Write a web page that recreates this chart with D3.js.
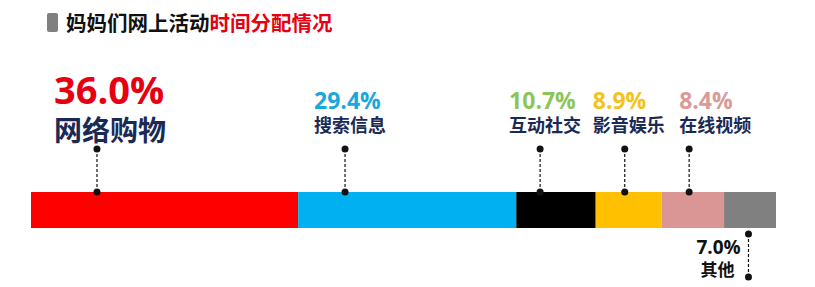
<!DOCTYPE html>
<html>
<head>
<meta charset="utf-8">
<script src="https://cdn.jsdelivr.net/npm/d3@7"></script>
<style>
  body { margin: 0; background: #fff; }
  svg { display: block; }
</style>
</head>
<body>
<div id="chart-container"></div>
<script>
// data
var categories = ["网络购物", "搜索信息", "互动社交", "影音娱乐", "在线视频", "其他"];
var shares = [36.0, 29.4, 10.7, 8.9, 8.4, 7.0];
var barColors = ["#ff0000", "#00b0f0", "#000000", "#ffc000", "#d99694", "#808080"];
var pctColors = ["#e60012", "#1aa7dc", "#8cc55a", "#f4c21b", "#d99a98", "#111111"];

var width = 815;
var height = 287;

// layout of the call-outs (where on each segment the leader sits, label offset)
var anchorFrac = [0.247, 0.215, 0.3, 0.44, 0.44, 0.47];
var labelDx = [-43, -31, -31, -32, -10, -52];

var svg = d3.select("#chart-container")
    .append("svg")
    .attr("width", width)
    .attr("height", height);

// title
svg.append("rect")
    .attr("x", 47).attr("y", 13)
    .attr("width", 11).attr("height", 19)
    .attr("rx", 2)
    .style("fill", "#808080");

var title = svg.append("text")
    .attr("x", 66).attr("y", 31)
    .style("font-family", "'Noto Sans CJK SC', sans-serif")
    .style("font-weight", "bold")
    .style("font-size", "20.5px");
title.append("tspan").style("fill", "#111").text("妈妈们网上活动");
title.append("tspan").style("fill", "#e60012").text("时间分配情况");

// stacked bar
var total = d3.sum(shares);
var x = d3.scaleLinear().domain([0, total]).range([31, 776]);
var barTop = 192, barH = 36;

var data = [];
var acc = 0;
for (var i = 0; i < shares.length; i++) {
    data.push({
        name: categories[i],
        value: shares[i],
        start: acc,
        color: barColors[i],
        pctColor: pctColors[i],
        lx: x(acc + shares[i] * anchorFrac[i]),
        dx: labelDx[i],
        i: i
    });
    acc += shares[i];
}
var last = data.length - 1;

svg.selectAll(".seg")
    .data(data)
    .enter()
    .append("rect")
    .attr("class", "seg")
    .attr("x", function(d) { return x(d.start); })
    .attr("y", barTop)
    .attr("width", function(d) { return x(d.start + d.value) - x(d.start); })
    .attr("height", barH)
    .style("fill", function(d) { return d.color; });

// leaders: above the bar for all but the last one, which hangs below
function leaderEnds(d) {
    if (d.i === last) return [barTop + barH + 6, 277];
    return [149, barTop];
}

var leaders = svg.selectAll(".leader")
    .data(data)
    .enter()
    .append("g")
    .attr("class", "leader");

leaders.append("line")
    .attr("x1", function(d) { return d.lx; })
    .attr("x2", function(d) { return d.lx; })
    .attr("y1", function(d) { return leaderEnds(d)[0]; })
    .attr("y2", function(d) { return leaderEnds(d)[1]; })
    .style("stroke", "#111")
    .style("stroke-width", 1.2)
    .style("stroke-dasharray", "3,2");

leaders.selectAll("circle")
    .data(function(d) { return leaderEnds(d).map(function(y) { return {x: d.lx, y: y}; }); })
    .enter()
    .append("circle")
    .attr("cx", function(p) { return p.x; })
    .attr("cy", function(p) { return p.y; })
    .attr("r", 3.5)
    .style("fill", "#111");

// labels
var labels = svg.selectAll(".label")
    .data(data)
    .enter()
    .append("g")
    .attr("class", "label");

labels.append("text")
    .attr("x", function(d) { return d.lx + d.dx; })
    .attr("y", function(d) { return d.i === 0 ? 104 : (d.i === last ? 254 : 109); })
    .style("font-family", "'Open Sans', sans-serif")
    .style("font-weight", "bold")
    .style("font-size", function(d) { return d.i === 0 ? "38px" : (d.i === last ? "19px" : "23px"); })
    .style("fill", function(d) { return d.pctColor; })
    .text(function(d) { return d.value.toFixed(1) + "%"; });

labels.append("text")
    .attr("x", function(d) { return d.lx + d.dx + (d.i === last ? 4 : 0); })
    .attr("y", function(d) { return d.i === 0 ? 141 : (d.i === last ? 276 : 132); })
    .style("font-family", "'Noto Sans CJK SC', sans-serif")
    .style("font-weight", "bold")
    .style("font-size", function(d) { return d.i === 0 ? "28px" : (d.i === last ? "17px" : "18px"); })
    .style("fill", function(d) { return d.i === last ? "#111" : "#1b2a55"; })
    .text(function(d) { return d.name; });
</script>
</body>
</html>
